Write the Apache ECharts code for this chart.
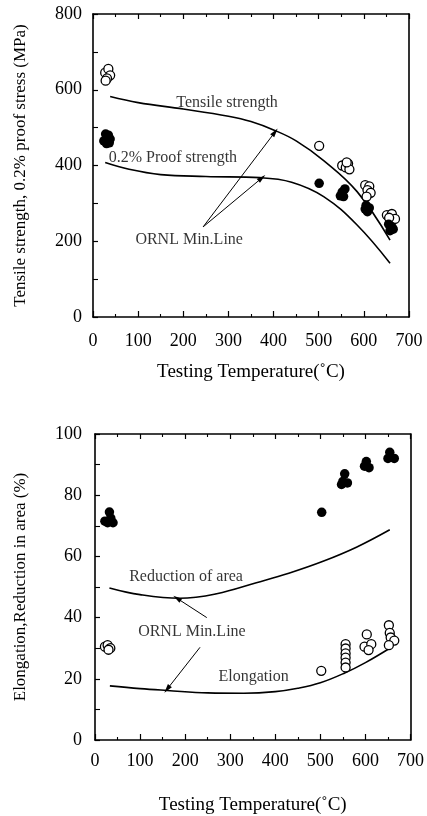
<!DOCTYPE html>
<html>
<head>
<meta charset="utf-8">
<script src="https://cdn.jsdelivr.net/npm/echarts@6/dist/echarts.min.js"></script>
<style>
html,body{margin:0;padding:0;background:#fff;}
#c{width:427px;height:816px;}
</style>
</head>
<body>
<div id="c"></div>
<script>
// ---------- DATA ----------
// Top panel: tensile strength (open) and 0.2% proof strength (filled), MPa
var tensileTemp = [27,34,38,31,28, 501, 552,560,565,568,562, 603,612,608,615,606, 651,662,669,656];
var tensileVal  = [645,655,638,630,624, 452, 400,395,405,390,408, 348,345,335,328,318, 269,272,259,262];
var proofTemp = [28,34,38,24,30,36, 501, 552,558,548,555, 605,612,608,603, 655,662,658,665];
var proofVal  = [483,480,470,465,458,460, 353, 330,338,320,318, 295,288,278,285, 245,238,228,232];
// ORNL minimum lines (top)
var tensileMinT = [38,100,200,300,350,404,450,511,585,658];
var tensileMinV = [582,566,549,530,516,492,465,413,331,203];
var proofMinT = [27,80,150,250,370,440,511,585,658];
var proofMinV = [408,390,376,371,368,356,318,243,142];

// Bottom panel: reduction of area (filled), elongation (open), %
var raTemp = [32,22,40,35,28, 503, 554,550,560,547, 602,598,608, 654,650,664];
var raVal  = [74.5,71.5,71,72.5,71, 74.4, 87,84.5,84,83.5, 91,89.5,89, 94,92,92];
var elTemp = [22,28,34,30, 502, 556,556,556,556,556,556, 603,598,613,607, 652,654,656,664,652];
var elVal  = [30.5,31,30,29.5, 22.6, 31.3,29.9,28.3,26.9,25.3,23.7, 34.5,30.5,31.3,29.4, 37.5,35,33.5,32.5,31];
// ORNL minimum lines (bottom)
var raMinT = [32,100,188,270,358,430,506,580,654];
var raMinV = [49.7,47.5,46.3,47.8,51.4,54.5,58.4,63,68.7];
var elMinT = [33,100,160,250,330,400,450,500,554,600,654];
var elMinV = [17.7,16.8,16.2,15.4,15.3,15.8,16.9,18.7,21.9,25.3,30];

// Tick labels / axis names
var xTitle = 'Testing Temperature(\u02DAC)';
var yTitleTop = 'Tensile strength, 0.2% proof stress (MPa)';
var yTitleBottom = 'Elongation,Reduction in area (%)';

// Annotation texts (data coordinates)
var topLabelText = ['Tensile strength','0.2% Proof strength','ORNL Min.Line'];
var topLabelT = [297,177,213];
var topLabelV = [565,420,203];
var topArrowFrom = [[244,238],[244,238]];
var topArrowTo = [[403,488],[374,367]];

var botLabelText = ['Reduction of area','ORNL Min.Line','Elongation'];
var botLabelT = [202,215,352];
var botLabelV = [53.4,35.5,20.8];
var botArrowFrom = [[248,40],[233,30.3]];
var botArrowTo = [[182,46.3],[160,16.6]];

// ---------- CHART ----------
var FONT = '"Liberation Serif", "Times New Roman", serif';
function zip(a,b){ return a.map(function(v,i){ return [v,b[i]]; }); }

var chart = echarts.init(document.getElementById('c'), null, {renderer:'canvas'});

function xAxisMain(gi, gap, margin){
  return {
    type:'value', gridIndex:gi, min:0, max:700, interval:100, position:'bottom',
    name:xTitle, nameLocation:'middle', nameGap:gap,
    nameTextStyle:{fontFamily:FONT, fontSize:19, color:'#000'},
    axisLine:{show:true, onZero:false, lineStyle:{color:'#000', width:1.6}},
    axisTick:{show:true, inside:true, length:6, lineStyle:{color:'#000', width:1.2}},
    minorTick:{show:true, splitNumber:2, length:3, lineStyle:{color:'#000', width:1.1}},
    axisLabel:{fontFamily:FONT, fontSize:18, color:'#000', margin:margin},
    splitLine:{show:false}
  };
}
function xAxisTop(gi){
  return {
    type:'value', gridIndex:gi, min:0, max:700, interval:100, position:'top',
    axisLine:{show:true, onZero:false, lineStyle:{color:'#000', width:1.6}},
    axisTick:{show:true, inside:true, length:5, lineStyle:{color:'#000', width:1.2}},
    minorTick:{show:true, splitNumber:2, length:3, lineStyle:{color:'#000', width:1.1}},
    axisLabel:{show:false}, splitLine:{show:false}
  };
}
function yAxisMain(gi, min, max, interval, name, gap, margin){
  return {
    type:'value', gridIndex:gi, min:min, max:max, interval:interval, position:'left',
    name:name, nameLocation:'middle', nameGap:gap, nameRotate:90,
    nameTextStyle:{fontFamily:FONT, fontSize:17, color:'#000'},
    axisLine:{show:true, onZero:false, lineStyle:{color:'#000', width:1.6}},
    axisTick:{show:true, inside:true, length:5, lineStyle:{color:'#000', width:1.2}},
    minorTick:{show:true, splitNumber:2, length:5, lineStyle:{color:'#000', width:1.1}},
    axisLabel:{fontFamily:FONT, fontSize:18, color:'#000', margin:margin},
    splitLine:{show:false}
  };
}
function yAxisRight(gi, min, max){
  return {
    type:'value', gridIndex:gi, min:min, max:max, position:'right',
    axisLine:{show:true, onZero:false, lineStyle:{color:'#000', width:1.6}},
    axisTick:{show:false}, axisLabel:{show:false}, splitLine:{show:false}
  };
}

function openScatter(xi, yi, data){
  return {type:'scatter', xAxisIndex:xi, yAxisIndex:yi, data:data, symbol:'circle', symbolSize:9,
    itemStyle:{color:'#fff', borderColor:'#000', borderWidth:1.3, opacity:1}, z:5, silent:true};
}
function filledScatter(xi, yi, data){
  return {type:'scatter', xAxisIndex:xi, yAxisIndex:yi, data:data, symbol:'circle', symbolSize:9.5,
    itemStyle:{color:'#000', opacity:1}, z:5, silent:true};
}
function curve(xi, yi, data){
  return {type:'line', xAxisIndex:xi, yAxisIndex:yi, data:data, smooth:0.4, showSymbol:false, symbol:'none',
    lineStyle:{color:'#000', width:1.6}, z:3, silent:true};
}
function labels(xi, yi, txt, t, v, arrFrom, arrTo){
  var d = txt.map(function(s,i){ return {name:s, value:[t[i], v[i]]}; });
  var ml = arrFrom.map(function(f,i){
    return [{coord:f, symbol:'none'}, {coord:arrTo[i], symbol:'triangle', symbolSize:[5,9]}];
  });
  return {type:'scatter', xAxisIndex:xi, yAxisIndex:yi, data:d, symbolSize:0, silent:true, z:6,
    label:{show:true, position:'inside', formatter:'{b}', fontFamily:FONT, fontSize:16, color:'#000'},
    markLine:{silent:true, animation:false, symbol:['none','triangle'],
      lineStyle:{color:'#000', width:1, type:'solid'}, label:{show:false}, data:ml}
  };
}

var option = {
  animation:false,
  backgroundColor:'#fff',
  grid:[
    {left:93, right:18, top:14, height:303},
    {left:95, right:16, top:434, height:307}
  ],
  xAxis:[ xAxisMain(0, 46, 15), xAxisTop(0), xAxisMain(1, 56, 12), xAxisTop(1) ],
  yAxis:[ yAxisMain(0, 0, 800, 200, yTitleTop, 64, 11), yAxisRight(0, 0, 800),
          yAxisMain(1, 0, 100, 20, yTitleBottom, 66, 13), yAxisRight(1, 0, 100) ],
  series:[
    curve(0, 0, zip(tensileMinT, tensileMinV)),
    curve(0, 0, zip(proofMinT, proofMinV)),
    openScatter(0, 0, zip(tensileTemp, tensileVal)),
    filledScatter(0, 0, zip(proofTemp, proofVal)),
    labels(0, 0, topLabelText, topLabelT, topLabelV, topArrowFrom, topArrowTo),
    curve(2, 2, zip(raMinT, raMinV)),
    curve(2, 2, zip(elMinT, elMinV)),
    filledScatter(2, 2, zip(raTemp, raVal)),
    openScatter(2, 2, zip(elTemp, elVal)),
    labels(2, 2, botLabelText, botLabelT, botLabelV, botArrowFrom, botArrowTo)
  ]
};
chart.setOption(option);
</script>
</body>
</html>
